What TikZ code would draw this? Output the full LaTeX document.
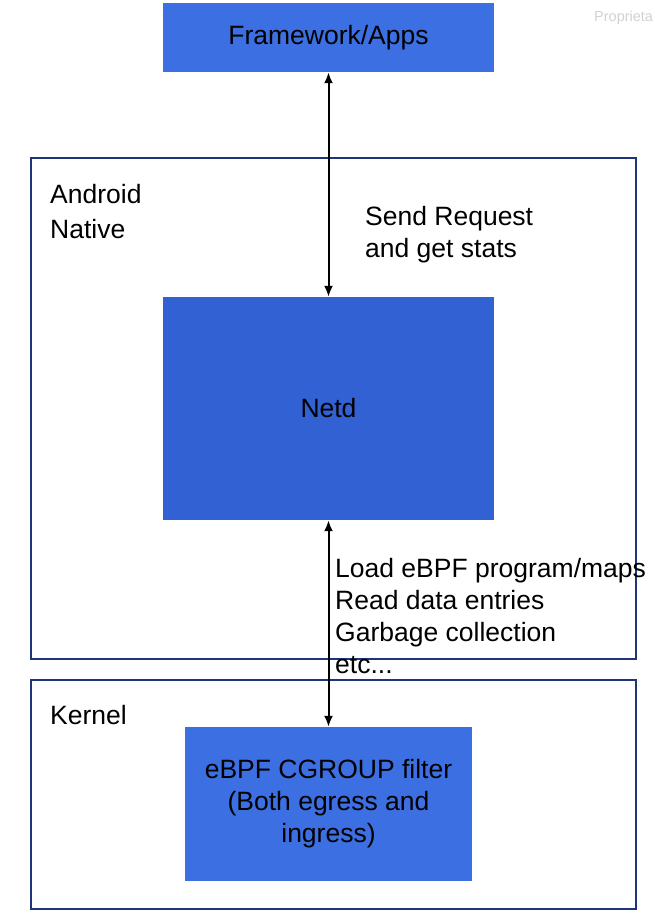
\documentclass[tikz,border=0pt]{standalone}
\usepackage{fontspec}
\setmainfont{Liberation Sans}
\usetikzlibrary{arrows.meta}
\definecolor{boxblue}{HTML}{3C6FE2}
\definecolor{netdblue}{HTML}{3161D3}
\definecolor{layernavy}{HTML}{1C3677}
\begin{document}
\begin{tikzpicture}[x=1pt,y=-1pt,
  txt/.style={font=\fontsize{26.5}{32}\selectfont,inner sep=0pt},
  blk/.style={shape=rectangle,draw=none,fill=boxblue,txt,align=center},
  layer/.style={shape=rectangle,draw=layernavy,line width=1.6pt,inner sep=0pt},
  dbl/.style={draw=black,{Latex[length=11pt,width=9pt]}-{Latex[length=11pt,width=9pt]},line width=2pt}]
\useasboundingbox (0,0) rectangle (654,916);

\node[layer,minimum width=605,minimum height=501] (native) at (333.5,408.5) {};
\node[layer,minimum width=605,minimum height=229] (kernel) at (333.5,794.5) {};

\node[blk,minimum width=331,minimum height=69] (fw) at (328.5,37.5) {Framework/Apps};
\node[blk,fill=netdblue,minimum width=331,minimum height=223] (netd) at (328.5,408.5) {Netd};
\node[blk,minimum width=287,minimum height=154] (ebpf) at (328.5,804) {eBPF CGROUP filter\\(Both egress and\\ingress)};

\node[txt,font=\fontsize{26.5}{35}\selectfont,align=left,anchor=north west] (nativelbl) at (50,184) {Android\\Native};
\node[txt,anchor=north west] (kernellbl) at (50,705) {Kernel};

\node[txt,align=left,anchor=north west] (reqlbl) at (365,206) {Send Request\\and get stats};
\node[txt,align=left,anchor=north west] (loadlbl) at (335,558) {Load eBPF program/maps\\Read data entries\\Garbage collection\\etc...};

\node[font=\fontsize{14.5}{16}\selectfont,text=black!18,inner sep=0pt,anchor=north west] (prop) at (594,11) {Proprieta};

\draw [dbl] (fw.south) -- (netd.north);
\draw [dbl] (netd.south) -- (ebpf.north);
\end{tikzpicture}
\end{document}
